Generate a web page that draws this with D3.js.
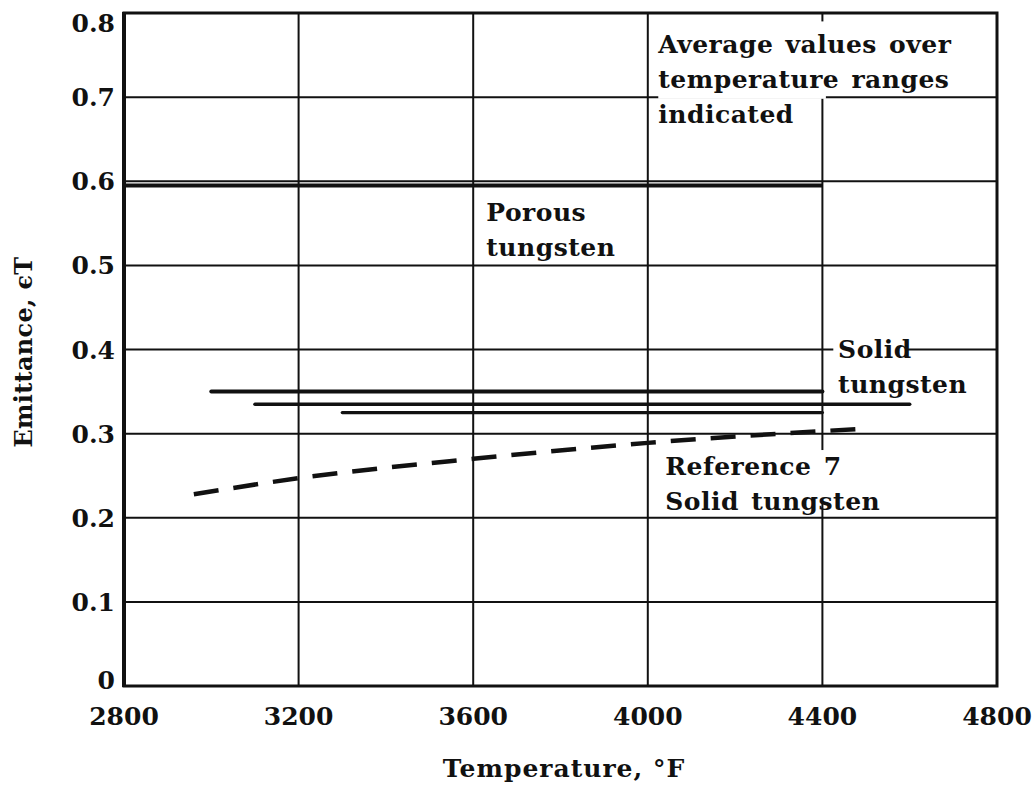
<!DOCTYPE html>
<html>
<head>
<meta charset="utf-8">
<script src="https://cdn.jsdelivr.net/npm/d3@7"></script>
<style>
  html, body { margin: 0; padding: 0; background: #fff; }
  svg { display: block; }
  text { font-family: "DejaVu Serif", serif; fill: #111; font-weight: bold; }
</style>
</head>
<body>
<svg id="chart" width="1035" height="788"></svg>
<script>
// Axis ticks
const xTicks = [2800, 3200, 3600, 4000, 4400, 4800];
const yTicks = [0, 0.1, 0.2, 0.3, 0.4, 0.5, 0.6, 0.7, 0.8];
const yTickLabels = ["0", "0.1", "0.2", "0.3", "0.4", "0.5", "0.6", "0.7", "0.8"];

// Porous tungsten: average emittance over its temperature range
const porousTemps = [2800, 4400];
const porousEmit = [0.595, 0.595];

// Solid tungsten: average emittance for three temperature ranges
const solidStart = [3000, 3100, 3300];
const solidEnd = [4400, 4600, 4400];
const solidEmit = [0.35, 0.335, 0.325];

// Reference 7, solid tungsten
const refTemps = [2960, 3200, 3600, 4000, 4400, 4500];
const refEmit = [0.228, 0.247, 0.270, 0.289, 0.303, 0.306];

const W = 1035, H = 788;
const margin = { left: 124, right: 38, top: 13, bottom: 102 };
const innerW = W - margin.left - margin.right;
const innerH = H - margin.top - margin.bottom;

const svg = d3.select("#chart");
const g = svg.append("g").attr("transform", `translate(${margin.left},${margin.top})`);

const x = d3.scaleLinear().domain([2800, 4800]).range([0, innerW]);
const y = d3.scaleLinear().domain([0, 0.8]).range([innerH, 0]);

// Grid
const grid = g.append("g").attr("stroke", "#111").attr("stroke-width", 2);
grid.selectAll("line.v").data(xTicks.slice(1, -1)).join("line")
  .attr("x1", d => x(d)).attr("x2", d => x(d))
  .attr("y1", 0).attr("y2", innerH);
grid.selectAll("line.h").data(yTicks.slice(1, -1)).join("line")
  .attr("x1", 0).attr("x2", innerW)
  .attr("y1", d => y(d)).attr("y2", d => y(d));

// Clear areas behind the annotation texts
const clearings = [
  { x0: 4024, x1: 4408, y0: 0.79, y1: 0.698 },
  { x0: 4040, x1: 4420, y0: 0.2805, y1: 0.2175 },
  { x0: 4425, x1: 4595, y0: 0.42, y1: 0.38 }
];
g.append("g").selectAll("rect").data(clearings).join("rect")
  .attr("x", d => x(d.x0)).attr("width", d => x(d.x1) - x(d.x0))
  .attr("y", d => y(d.y0)).attr("height", d => y(d.y1) - y(d.y0))
  .attr("fill", "#fff");

// Porous tungsten line
const line = d3.line().x(d => x(d[0])).y(d => y(d[1]));
g.append("path")
  .datum(d3.zip(porousTemps, porousEmit))
  .attr("d", line)
  .attr("fill", "none").attr("stroke", "#111").attr("stroke-width", 4);

// Solid tungsten ranges
const solidWidths = [4, 3.5, 3.2];
g.append("g").selectAll("line").data(d3.range(solidEmit.length)).join("line")
  .attr("x1", i => x(solidStart[i])).attr("x2", i => x(solidEnd[i]))
  .attr("y1", i => y(solidEmit[i])).attr("y2", i => y(solidEmit[i]))
  .attr("stroke", "#111").attr("stroke-width", i => solidWidths[i])
  .attr("stroke-linecap", "round");

// Reference 7 dashed curve
g.append("path")
  .datum(d3.zip(refTemps, refEmit))
  .attr("d", line.curve(d3.curveMonotoneX))
  .attr("fill", "none").attr("stroke", "#111").attr("stroke-width", 4.5)
  .attr("stroke-dasharray", "25 15");

// Frame
g.append("rect").attr("x", 0).attr("y", 0).attr("width", innerW).attr("height", innerH)
  .attr("fill", "none").attr("stroke", "#111").attr("stroke-width", 3);
g.append("line").attr("x1", 0).attr("x2", 0).attr("y1", -1).attr("y2", innerH + 1)
  .attr("stroke", "#111").attr("stroke-width", 4);

// Tick labels
g.append("g").selectAll("text").data(xTicks).join("text")
  .attr("x", d => x(d)).attr("y", innerH + 39)
  .attr("text-anchor", "middle").attr("font-size", 25)
  .text(d => d);
g.append("g").selectAll("text").data(yTicks).join("text")
  .attr("x", -9)
  .attr("y", (d, i) => {
    const c = y(d);
    if (i === yTicks.length - 1) return c + 19; // keep top label inside
    if (i === 0) return c + 3;
    return c + 9;
  })
  .attr("text-anchor", "end").attr("font-size", 25)
  .text((d, i) => yTickLabels[i]);

// Axis titles
svg.append("text")
  .attr("x", 564).attr("y", 777)
  .attr("text-anchor", "middle").attr("font-size", 25).attr("letter-spacing", 1)
  .text("Temperature, °F");
svg.append("text")
  .attr("transform", "translate(32,352) rotate(-90)")
  .attr("text-anchor", "middle").attr("font-size", 24).attr("letter-spacing", 0.3)
  .text("Emittance, ϵT");

// Annotations
const notes = [
  { t: 4024, v: 0.7525, lines: ["Average values over", "temperature ranges", "indicated"] },
  { t: 3630, v: 0.553, lines: ["Porous", "tungsten"] },
  { t: 4436, v: 0.39, lines: ["Solid", "tungsten"] },
  { t: 4040, v: 0.251, lines: ["Reference 7", "Solid tungsten"] }
];
const noteG = g.append("g");
notes.forEach(n => {
  const tx = noteG.append("text")
    .attr("x", x(n.t)).attr("y", y(n.v)).attr("font-size", 25)
    .attr("letter-spacing", 0.5).attr("word-spacing", 3);
  n.lines.forEach((s, k) => {
    tx.append("tspan").attr("x", x(n.t)).attr("dy", k === 0 ? 0 : 35).text(s);
  });
});
</script>
</body>
</html>
